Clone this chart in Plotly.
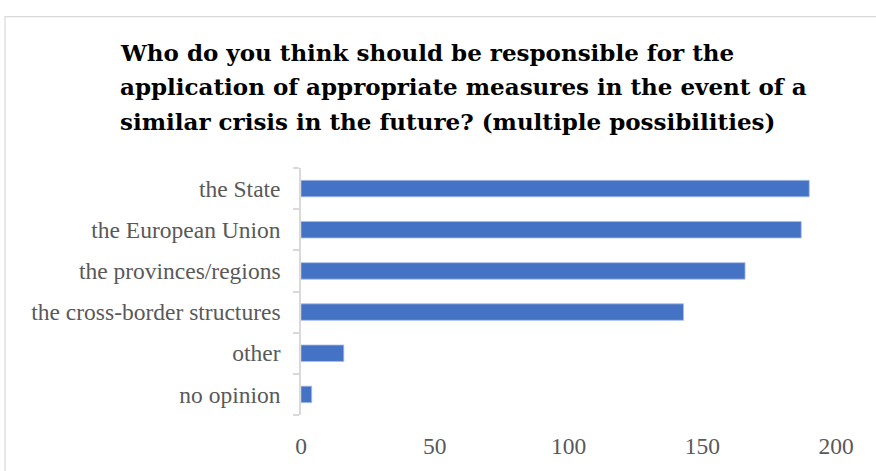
import plotly.graph_objects as go

# Survey responses (multiple answers allowed)
categories = [
    "the State",
    "the European Union",
    "the provinces/regions",
    "the cross-border structures",
    "other",
    "no opinion",
]
counts = [190, 187, 166, 143, 16, 4]
x_ticks = [0, 50, 100, 150, 200]

title_lines = [
    "Who do you think should be responsible for the",
    "application of appropriate measures in the event of a",
    "similar crisis in the future? (multiple possibilities)",
]

W, H = 876, 471
L, R, T, B = 301, 40, 168, 50
pw, ph = W - L - R, H - T - B
SERIF = "Liberation Serif"
TITLE_FONT = dict(family="DejaVu Serif", size=23, color="black", weight=700)

fig = go.Figure(
    go.Bar(
        x=counts,
        y=categories,
        orientation="h",
        marker=dict(color="#4472C4", line=dict(color="#A9BDE4", width=0.8)),
        hoverinfo="x+y",
    )
)

fig.update_layout(
    width=W,
    height=H,
    margin=dict(l=L, r=R, t=T, b=B, pad=0),
    paper_bgcolor="white",
    plot_bgcolor="white",
    bargap=0.6,
    showlegend=False,
    font=dict(family=SERIF, color="#595959"),
)

# Title, one line per annotation, left aligned
for i, line in enumerate(title_lines):
    py = 50 + 35 * i
    fig.add_annotation(
        text=line,
        xref="paper",
        yref="paper",
        x=(118 - L) / pw,
        y=(H - B - py) / ph,
        xanchor="left",
        yanchor="middle",
        showarrow=False,
        font=TITLE_FONT,
    )

fig.update_xaxes(
    range=[0, 200],
    tickvals=x_ticks,
    showgrid=False,
    zeroline=False,
    showline=False,
    ticks="",
    tickfont=dict(size=23.5, color="#595959"),
    ticklabelstandoff=14,
)

fig.update_yaxes(
    categoryorder="array",
    categoryarray=categories[::-1],
    autorange=True,
    showgrid=False,
    showline=True,
    linecolor="#D9D9D9",
    linewidth=1.5,
    ticks="outside",
    tickson="boundaries",
    ticklen=6,
    tickcolor="#D9D9D9",
    tickwidth=1.5,
    tickfont=dict(size=23.5, color="#595959"),
    ticklabelstandoff=14,
)

# Chart frame
fig.add_shape(
    type="rect",
    xref="paper",
    yref="paper",
    x0=(5 - L) / pw,
    x1=(W + 10 - L) / pw,
    y0=-(H + 10 - T - ph) / ph,
    y1=(H - 13 - B) / ph,
    line=dict(color="#D9D9D9", width=1.2),
    fillcolor="rgba(0,0,0,0)",
    layer="below",
)

fig.write_html("out.html")
